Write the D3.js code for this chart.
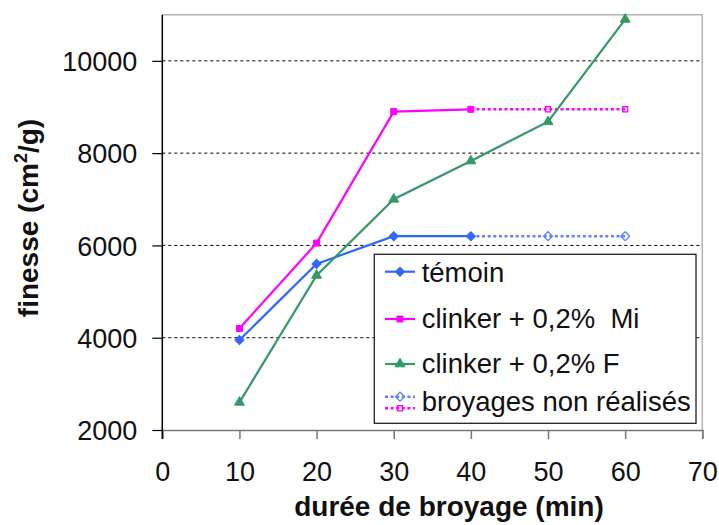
<!DOCTYPE html>
<html>
<head>
<meta charset="utf-8">
<script src="https://cdn.jsdelivr.net/npm/d3@7/dist/d3.min.js"></script>
<style>
  html, body { margin: 0; padding: 0; background: #fff; }
  svg { display: block; font-family: "Liberation Sans", Arial, sans-serif; }
</style>
</head>
<body>
<script>
// Grinding time (min) and measured fineness (cm²/g)
const durees = [10, 20, 30, 40, 50, 60];
const temoin = [3950, 5600, 6200, 6200];          // 10–40 min
const clinkerMi = [4200, 6050, 8900, 8950];       // 10–40 min
const clinkerF = [2600, 5350, 7000, 7830, 8680, 10900]; // 10–60 min
// Grinds not carried out: last value carried to 50 and 60 min
const dureesNonRealisees = [40, 50, 60];
const temoinNonRealise = [6200, 6200, 6200];
const clinkerMiNonRealise = [8950, 8950, 8950];

const xTicks = [0, 10, 20, 30, 40, 50, 60, 70];
const yTicks = [2000, 4000, 6000, 8000, 10000];
const legendLabels = ["témoin", "clinker + 0,2%  Mi", "clinker + 0,2% F", "broyages non réalisés"];

const W = 719, H = 525;
const blue = "#3366FF", magenta = "#FF00FF", green = "#339966";

const svg = d3.select("body").append("svg").attr("width", W).attr("height", H);

const x = d3.scaleLinear().domain([0, 70]).range([162.3, 702.3]);
const y = d3.scaleLinear().domain([2000, 11000]).range([430, 14.7]);

// plot frame (top and right edges)
svg.append("path")
  .attr("d", `M${x(0)},${y(11000)}H${x(70)}V${y(2000)}`)
  .attr("fill", "none").attr("stroke", "#b4b4b4").attr("stroke-width", 1.5);

// dashed horizontal gridlines
svg.append("g").selectAll("line")
  .data(yTicks.filter(v => v > 2000))
  .join("line")
  .attr("x1", x(0)).attr("x2", x(70))
  .attr("y1", d => y(d)).attr("y2", d => y(d))
  .attr("stroke", "#000").attr("stroke-width", 1)
  .attr("stroke-dasharray", "3,3");

// x axis
const gx = svg.append("g").attr("transform", `translate(0,${y(2000)})`)
  .call(d3.axisBottom(x).tickValues(xTicks).tickSize(9).tickPadding(30).tickFormat(d3.format("d")));
gx.select(".domain").attr("stroke", "#777").attr("stroke-width", 1.5);
gx.selectAll(".tick line").attr("stroke", "#777").attr("stroke-width", 1.5);
gx.selectAll(".tick text").attr("font-size", 27).attr("fill", "#111")
  .attr("font-family", "Liberation Sans, Arial, sans-serif").attr("dy", 0).attr("y", 51);

// y axis
const gy = svg.append("g").attr("transform", `translate(${x(0)},0)`)
  .call(d3.axisLeft(y).tickValues(yTicks).tickSize(10).tickPadding(15).tickFormat(d3.format("d")));
gy.select(".domain").remove();
gy.append("line").attr("y1", y(11000)).attr("y2", y(2000) + 9).attr("stroke", "#000").attr("stroke-width", 1.5);
gy.selectAll(".tick line").attr("stroke", "#000").attr("stroke-width", 1.2);
gy.selectAll(".tick text").attr("font-size", 27).attr("fill", "#111")
  .attr("font-family", "Liberation Sans, Arial, sans-serif").attr("dy", "0.36em");

// axis titles
svg.append("text")
  .attr("x", 449).attr("y", 516)
  .attr("text-anchor", "middle").attr("font-size", 28).attr("font-weight", "bold").attr("fill", "#111")
  .text("durée de broyage (min)");

const yt = svg.append("text")
  .attr("transform", `translate(38,218) rotate(-90)`)
  .attr("text-anchor", "middle").attr("font-size", 28).attr("font-weight", "bold").attr("fill", "#111");
yt.append("tspan").text("finesse (cm");
yt.append("tspan").attr("font-size", 18).attr("dy", -11).text("2");
yt.append("tspan").attr("dy", 11).text("/g)");

// marker shapes
const diamond = d3.symbol().type(d3.symbolSquare).size(42)();
const square = d3.symbol().type(d3.symbolSquare).size(36)();
const triangle = d3.symbol().type(d3.symbolTriangle).size(42)();
const hollowDiamond = d3.symbol().type(d3.symbolSquare).size(40)();
const hollowSquare = d3.symbol().type(d3.symbolSquare).size(26)();

const line = d3.line().x(d => x(d[0])).y(d => y(d[1]));
const pairs = (xs, ys) => ys.map((v, i) => [xs[i], v]);

function drawSeries(pts, color, shape, opts) {
  const g = svg.append("g");
  g.append("path").attr("d", line(pts)).attr("fill", "none")
    .attr("stroke", color).attr("stroke-width", opts.dashed ? 2.6 : 2.2)
    .attr("stroke-dasharray", opts.dashed ? "3,2.6" : null);
  const ms = opts.skipFirst ? pts.slice(1) : pts;
  g.selectAll("path.m").data(ms).join("path").attr("class", "m")
    .attr("d", shape)
    .attr("transform", d => `translate(${x(d[0])},${y(d[1])})` + (opts.rotate ? " rotate(45)" : ""))
    .attr("fill", opts.hollow ? "none" : color)
    .attr("stroke", color).attr("stroke-width", opts.hollow ? 1.3 : 1);
}

drawSeries(pairs(dureesNonRealisees, temoinNonRealise), "#5b83ff", hollowDiamond, { dashed: true, hollow: true, rotate: true, skipFirst: true });
drawSeries(pairs(dureesNonRealisees, clinkerMiNonRealise), magenta, hollowSquare, { dashed: true, hollow: true, skipFirst: true });
drawSeries(pairs(durees, temoin), blue, diamond, { rotate: true });
drawSeries(pairs(durees, clinkerMi), magenta, square, {});
drawSeries(pairs(durees, clinkerF), green, triangle, {});

// legend
const lg = svg.append("g");
lg.append("rect").attr("x", 374.3).attr("y", 254.3).attr("width", 321.7).attr("height", 169)
  .attr("fill", "#fff").attr("stroke", "#222").attr("stroke-width", 1.3);

const legendRows = [
  { label: legendLabels[0], textY: 281.7, items: [{ y: 271.7, color: blue, shape: diamond, rotate: true }] },
  { label: legendLabels[1], textY: 328.3, items: [{ y: 319, color: magenta, shape: square }] },
  { label: legendLabels[2], textY: 373.3, items: [{ y: 364, color: green, shape: triangle }] },
  { label: legendLabels[3], textY: 410.7, items: [
      { y: 396.7, color: "#5b83ff", shape: hollowDiamond, rotate: true, dashed: true, hollow: true },
      { y: 408.3, color: magenta, shape: hollowSquare, dashed: true, hollow: true }] }
];

legendRows.forEach(r => {
  r.items.forEach(it => {
    lg.append("line").attr("x1", 385).attr("x2", 415).attr("y1", it.y).attr("y2", it.y)
      .attr("stroke", it.color).attr("stroke-width", it.dashed ? 2.6 : 2.2)
      .attr("stroke-dasharray", it.dashed ? "3,2.6" : null);
    lg.append("path").attr("d", it.shape)
      .attr("transform", `translate(400,${it.y})` + (it.rotate ? " rotate(45)" : ""))
      .attr("fill", it.hollow ? "none" : it.color).attr("stroke", it.color)
      .attr("stroke-width", it.hollow ? 1.3 : 1);
  });
  lg.append("text").attr("x", 421.7).attr("y", r.textY)
    .attr("font-size", 27.5).attr("fill", "#111").attr("xml:space", "preserve")
    .style("white-space", "pre")
    .text(r.label);
});
</script>
</body>
</html>
